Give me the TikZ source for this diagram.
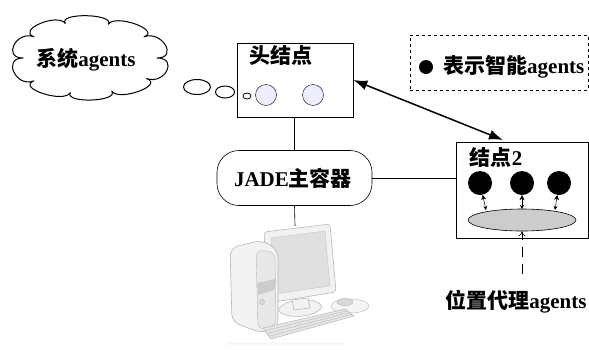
\documentclass[tikz,border=0pt]{standalone}
\usepackage{fontspec}
\setmainfont{Liberation Serif}
\newfontfamily\cjk{Noto Sans CJK SC}
\usetikzlibrary{shapes.geometric,arrows.meta,calc}
\newcommand\zh[1]{{\cjk\bfseries #1}}
\begin{document}
\begin{tikzpicture}[x=1pt,y=-1pt,
  lbl/.style={font=\fontsize{21}{23}\selectfont\bfseries, inner sep=0pt},
  box/.style={draw, line width=0.6pt, fill=white},
  agent/.style={circle, fill=black, minimum size=24pt, inner sep=0pt},
  hagent/.style={circle, draw, fill=blue!7, minimum size=21pt, inner sep=0pt},
  bubble/.style={ellipse, draw, line width=1pt, fill=white, inner sep=0pt},
  link/.style={line width=0.6pt},
  bigarrow/.style={line width=1.5pt, {Latex[length=14pt,width=10pt]}-{Latex[length=14pt,width=10pt]}},
  tinyarrow/.style={line width=0.5pt, {Stealth[length=4pt,width=4pt]}-{Stealth[length=5pt,width=5pt]}},
  pcbody/.style={draw=gray!55, line width=0.6pt, fill=gray!10}
]
\useasboundingbox (0,0) rectangle (589,349);

% head node
\node[box, minimum width=116pt, minimum height=74pt] (head) at (295,80) {};
\node[lbl] (headtxt) at (281,55) {\zh{头结点}};
\node[hagent] (h1) at (266,95) {};
\node[hagent] (h2) at (313,95) {};

% thought cloud with the system agents: puffs bulge out from the centre cc
\coordinate (cc) at (89,58);
\foreach \i/\ang/\rad in {0/0/1,1/34/1.02,2/70/0.98,3/106/1,4/142/1.03,
                          5/180/0.97,6/216/1,7/250/1.02,8/287/0.98,9/324/1}
  \coordinate (p\i) at ($(cc)+({68*\rad*cos(\ang)},{36*\rad*sin(\ang)})$);
\draw[line width=1pt, line join=round] (p0)
  \foreach \i/\j in {0/1,1/2,2/3,3/4,4/5,5/6,6/7,7/8,8/9,9/0} {
    .. controls ($(cc)!1.32!(p\i)$) and ($(cc)!1.32!(p\j)$) .. (p\j)
  };
\node[lbl] (cloudtxt) at (86,60) {\zh{系统}agents};
\node[bubble, minimum width=27pt, minimum height=15pt] (b1) at (197,87) {};
\node[bubble, minimum width=19pt, minimum height=12pt] (b2) at (225,92) {};
\node[bubble, minimum width=8pt, minimum height=6pt, line width=0.8pt] (b3) at (247,96) {};

% legend
\node[draw, dashed, line width=0.6pt, minimum width=178pt, minimum height=55pt] (legend) at (499,62.5) {};
\node[circle, fill=black, minimum size=14pt, inner sep=0pt] (ldot) at (426,67) {};
\node[lbl, anchor=west] (legtxt) at (443,67) {\zh{表示智能}agents};

% JADE main container
\node[draw, line width=0.6pt, rounded corners=22pt, minimum width=155pt, minimum height=55pt] (jade) at (294.5,178) {};
\node[lbl] (jadetxt) at (293,178) {JADE\zh{主容器}};

% node 2
\node[box, minimum width=132pt, minimum height=96pt] (n2) at (522,190) {};
\node[lbl] (n2txt) at (496,157) {\zh{结点}2};
\node[agent] (a1) at (480,183) {};
\node[agent] (a2) at (522,183) {};
\node[agent] (a3) at (559,183) {};
\node[ellipse, draw, line width=0.6pt, fill=gray!40, minimum width=108pt, minimum height=22pt, inner sep=0pt] (loc) at (522,220) {};
\coordinate (l1) at (486,210);
\coordinate (l2) at (522,209);
\coordinate (l3) at (555,210);
\draw[tinyarrow] (l1) -- (a1);
\draw[tinyarrow] (l2) -- (a2);
\draw[tinyarrow] (l3) -- (a3);

% location agents
\node[lbl] (loctxt) at (516,302) {\zh{位置代理}agents};
\coordinate (dashend) at (522,274);
\draw[line width=0.6pt, dash pattern=on 10pt off 7pt, -{To[length=5pt,width=7pt]}] (dashend) -- (loc.south);

% links
\coordinate (pctop) at (295,226);
\draw[link] (head.south -| jade.north) -- (jade.north);
\draw[link] (jade.south) -- (pctop);
\draw[link] (jade.east) -- (jade.east -| n2.west);
\draw[bigarrow] (head.east |- 0,80) -- (503,140);

% desktop computer
\begin{scope}
  % mouse pad and mouse
  \fill[gray!8] (350,306) ellipse (19pt and 7pt);
  \draw[gray!50, line width=0.5pt] (350,306) ellipse (19pt and 7pt);
  \filldraw[draw=gray!60, fill=gray!30] (345,302) ellipse (8pt and 3.5pt);
  % monitor stand
  \filldraw[pcbody] (278,310) .. controls (285,298) and (315,296) .. (322,306) .. controls (318,318) and (284,320) .. (278,310) -- cycle;
  \filldraw[pcbody] (292,300) -- (308,298) -- (310,308) -- (294,310) -- cycle;
  % monitor
  \filldraw[pcbody, rounded corners=3pt] (264,232) -- (330,224) -- (336,292) -- (268,303) -- cycle;
  \filldraw[draw=gray!45, fill=gray!25] (271,238) -- (325,231) -- (330,286) -- (274,294) -- cycle;
  % tower
  \filldraw[pcbody, rounded corners=8pt] (230,248) -- (262,240) -- (278,250) -- (278,328) -- (262,333) -- (232,322) -- cycle;
  \filldraw[draw=gray!55, fill=gray!18, rounded corners=7pt] (256,250) -- (275,252) -- (276,326) -- (258,330) -- cycle;
  \fill[gray!40] (257,283) -- (275,279) -- (275,290) -- (258,295) -- cycle;
  \filldraw[draw=gray!60, fill=gray!30] (262,302) circle (2.5pt);
  % keyboard
  \filldraw[draw=gray!55, fill=gray!20, line width=0.5pt] (263,328) -- (345,309) -- (354,316) -- (271,339) -- cycle;
  \foreach \t in {0.25,0.5,0.75} {
    \draw[gray!55, line width=0.4pt] ($(263,328)!\t!(271,339)$) -- ($(345,309)!\t!(354,316)$);
  }
  \fill[gray!6] (228,342) rectangle (345,345);
\end{scope}
\end{tikzpicture}
\end{document}
